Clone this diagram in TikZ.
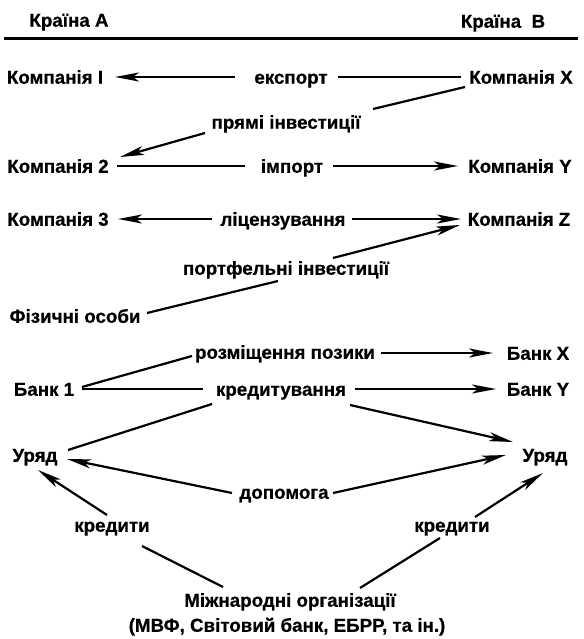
\documentclass[tikz,border=0pt]{standalone}
\usepackage{fontspec}
\setmainfont[BoldFeatures={FakeBold=0.6}]{Liberation Sans}
\usetikzlibrary{arrows.meta}
\begin{document}
\begin{tikzpicture}[x=1pt,y=-1pt,
  lbl/.style={font=\bfseries\fontsize{18.75}{22}\selectfont, inner sep=0pt, text height=13.5pt, text depth=0pt},
  con/.style={line width=2.2pt},
  arr/.style={con,-{Stealth[length=24pt,width=9pt,inset=6pt]}}]
\useasboundingbox (0,0) rectangle (583,639);
% header
\node[lbl] (kA) at (69,20) {Країна А};
\node[lbl] (kB) at (503,21) {Країна\ \ B};
\coordinate (hl) at (4,38.5);
\coordinate (hr) at (578,38.5);
\draw[line width=3pt] (hl) -- (hr);
% nodes
\node[lbl] (c1) at (55,77) {Компанія I};
\node[lbl] (exp) at (291,77) {експорт};
\node[lbl] (cX) at (521,77) {Компанія X};
\node[lbl] (pi) at (286,122) {прямі інвестиції};
\node[lbl] (c2) at (58,166) {Компанія 2};
\node[lbl] (imp) at (292,166) {імпорт};
\node[lbl] (cY) at (520,166) {Компанія Y};
\node[lbl] (c3) at (58,219) {Компанія 3};
\node[lbl] (lic) at (283,219) {ліцензування};
\node[lbl] (cZ) at (519,219) {Компанія Z};
\node[lbl] (pf) at (286,268) {портфельні інвестиції};
\node[lbl] (fo) at (75,316) {Фізичні особи};
\node[lbl] (rp) at (285,352) {розміщення позики};
\node[lbl] (bX) at (538,353) {Банк X};
\node[lbl] (b1) at (44,389) {Банк 1};
\node[lbl] (kr) at (281,389) {кредитування};
\node[lbl] (bY) at (538,389) {Банк Y};
\node[lbl] (ul) at (35,455) {Уряд};
\node[lbl] (ur) at (545,455) {Уряд};
\node[lbl] (dop) at (284,492) {допомога};
\node[lbl] (krL) at (112,525) {кредити};
\node[lbl] (krR) at (452,525) {кредити};
\node[lbl] (mo) at (290,600) {Міжнародні організації};
\node[lbl] (mo2) at (287,625) {(МВФ, Світовий банк, ЕБРР, та ін.)};
% connectors
\draw[arr] ([shift={(-56,0)}]exp.center) -- ([shift={(60,0)}]c1.center);
\draw[con] ([shift={(47,0)}]exp.center) -- ([shift={(-60,0)}]cX.center);
\draw[con] ([shift={(-56,10)}]cX.center) -- ([shift={(87,-13)}]pi.center);
\draw[arr] ([shift={(-81,11)}]pi.center) -- ([shift={(62,-9)}]c2.center);
\draw[con] ([shift={(59,0)}]c2.center) -- ([shift={(-47,0)}]imp.center);
\draw[arr] ([shift={(41,0)}]imp.center) -- ([shift={(-62,0)}]cY.center);
\draw[arr] ([shift={(-71,0)}]lic.center) -- ([shift={(60,0)}]c3.center);
\draw[arr] ([shift={(69,0)}]lic.center) -- ([shift={(-58,0)}]cZ.center);
\draw[con] ([shift={(72,-3)}]fo.center) -- ([shift={(-8,13)}]pf.center);
\draw[arr] ([shift={(47,-10)}]pf.center) -- ([shift={(-59,6)}]cZ.center);
\draw[con] ([shift={(38,-2)}]b1.center) -- ([shift={(-93,4)}]rp.center);
\draw[con] ([shift={(38,0)}]b1.center) -- ([shift={(-78,0)}]kr.center);
\draw[arr] ([shift={(96,1)}]rp.center) -- ([shift={(-45,0)}]bX.center);
\draw[arr] ([shift={(74,0)}]kr.center) -- ([shift={(-42,0)}]bY.center);
\draw[con] ([shift={(-69,15)}]kr.center) -- ([shift={(33,-5)}]ul.center);
\draw[arr] ([shift={(69,16)}]kr.center) -- ([shift={(-32,-13)}]ur.center);
\draw[arr] ([shift={(-52,1)}]dop.center) -- ([shift={(32,4)}]ul.center);
\draw[arr] ([shift={(49,1)}]dop.center) -- ([shift={(-39,0)}]ur.center);
\draw[arr] ([shift={(-5,-10)}]krL.center) -- ([shift={(3,15)}]ul.center);
\draw[con] ([shift={(-67,-13)}]mo.center) -- ([shift={(30,21)}]krL.center);
\draw[arr] ([shift={(23,-8)}]krR.center) -- ([shift={(-2,18)}]ur.center);
\draw[con] ([shift={(70,-12)}]mo.center) -- ([shift={(-12,13)}]krR.center);
\end{tikzpicture}
\end{document}
